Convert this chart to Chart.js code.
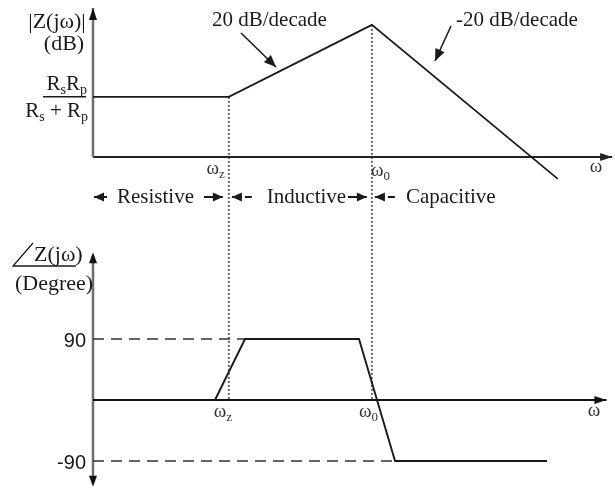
<!DOCTYPE html>
<html>
<head>
<meta charset="utf-8">
<script src="https://cdn.jsdelivr.net/npm/chart.js@4.4.1/dist/chart.umd.min.js"></script>
<style>
    html, body { margin: 0; padding: 0; background: #fff; }
    #wrap { width: 615px; height: 490px; }
</style>
</head>
<body>
<div id="wrap"><canvas id="bode" width="615" height="490"></canvas></div>
<script>
// frequency axis is log10(w) in decades, wz sits at 1 and w0 at 2
const cornerW = [1, 2];
const cornerSub = ["z", "0"];

// |Z(jw)| in dB
const magW = [0.05, 1, 2, 3.3];
const magDb = [16.7, 16.7, 36.7, -6.1];

// phase of Z(jw) in degrees
const phaseW = [0.903, 1.113, 1.91, 2.162, 3.225];
const phaseDeg = [0, 90, 90, -90, -90];

// dashed reference levels and where they stop
const refDeg = [90, -90];
const refEndW = [1.113, 2.162];
const refTicks = ["90", "-90"];

const regions = ["Resistive", "Inductive", "Capacitive"];
const slopeLabels = ["20 dB/decade", "-20 dB/decade"];

const SERIF = '"Liberation Serif", "Times New Roman", serif';
const SANS = '"Liberation Sans", Arial, sans-serif';

function arrowHead(ctx, x1, y1, x2, y2, len, half) {
    const a = Math.atan2(y2 - y1, x2 - x1);
    const c = Math.cos(a), s = Math.sin(a);
    ctx.beginPath();
    ctx.moveTo(x2, y2);
    ctx.lineTo(x2 - len * c + half * s, y2 - len * s - half * c);
    ctx.lineTo(x2 - len * c - half * s, y2 - len * s + half * c);
    ctx.closePath();
    ctx.fill();
}

function arrow(ctx, x1, y1, x2, y2, len, half) {
    ctx.beginPath();
    ctx.moveTo(x1, y1);
    ctx.lineTo(x2, y2);
    ctx.stroke();
    if (len > 0) arrowHead(ctx, x1, y1, x2, y2, len, half);
}

// parts: [[text, isSub], ...]
function subText(ctx, parts, x, y, size, align) {
    const subSize = Math.round(size * 0.66);
    let total = 0;
    parts.forEach(p => {
        ctx.font = (p[1] ? subSize : size) + "px " + SERIF;
        total += ctx.measureText(p[0]).width;
    });
    let cx = x;
    if (align === "center") cx = x - total / 2;
    if (align === "right") cx = x - total;
    ctx.textAlign = "left";
    ctx.textBaseline = "alphabetic";
    parts.forEach(p => {
        ctx.font = (p[1] ? subSize : size) + "px " + SERIF;
        ctx.fillText(p[0], cx, y + (p[1] ? size * 0.22 : 0));
        cx += ctx.measureText(p[0]).width;
    });
}

const bodeDecor = {
    id: "bodeDecor",
    beforeDatasetsDraw(chart) {
        const ctx = chart.ctx;
        const xs = chart.scales.x, ym = chart.scales.yMag, yp = chart.scales.yPh;
        const ca = chart.chartArea;
        const x0 = xs.getPixelForValue(xs.min);

        ctx.save();
        // dotted lines at the corner frequencies
        ctx.strokeStyle = "#666";
        ctx.lineWidth = 2;
        ctx.setLineDash([2, 2]);
        cornerW.forEach(w => {
            const i = magW.indexOf(w);
            const px = xs.getPixelForValue(w);
            ctx.beginPath();
            ctx.moveTo(px, ym.getPixelForValue(magDb[i]));
            ctx.lineTo(px, yp.getPixelForValue(0));
            ctx.stroke();
        });
        ctx.setLineDash([]);

        // magnitude axes
        ctx.fillStyle = "#222";
        ctx.strokeStyle = "#222";
        ctx.lineWidth = 2;
        const m0 = ym.getPixelForValue(0);
        arrow(ctx, x0, m0, xs.getPixelForValue(3.68), m0, 12, 4);
        ctx.strokeStyle = "#6e6e6e";
        ctx.fillStyle = "#111";
        ctx.lineWidth = 2.5;
        arrow(ctx, x0, m0, x0, ca.top - 2, 12, 4);

        // phase axes
        const p0 = yp.getPixelForValue(0);
        const pTop = yp.getPixelForValue(218);
        const pBot = yp.getPixelForValue(-128);
        ctx.beginPath();
        ctx.moveTo(x0, pTop + 6);
        ctx.lineTo(x0, pBot - 6);
        ctx.stroke();
        arrowHead(ctx, x0, pBot, x0, pTop, 11, 4);
        arrowHead(ctx, x0, pTop, x0, pBot, 11, 4);
        ctx.strokeStyle = "#111";
        ctx.fillStyle = "#111";
        ctx.lineWidth = 2;
        arrow(ctx, x0, p0, xs.getPixelForValue(3.64), p0, 12, 4);
        ctx.restore();
    },
    afterDatasetsDraw(chart) {
        const ctx = chart.ctx;
        const xs = chart.scales.x, ym = chart.scales.yMag, yp = chart.scales.yPh;
        const x0 = xs.getPixelForValue(xs.min);
        const wz = xs.getPixelForValue(cornerW[0]);
        const w0 = xs.getPixelForValue(cornerW[1]);
        const m0 = ym.getPixelForValue(0);
        const p0 = yp.getPixelForValue(0);

        ctx.save();
        ctx.fillStyle = "#1a1a1a";
        ctx.strokeStyle = "#1a1a1a";

        // y-axis titles, magnitude
        ctx.textAlign = "center";
        ctx.textBaseline = "middle";
        ctx.font = "22px " + SERIF;
        ctx.fillText("|Z(j\u03c9)|", 57, 22);
        ctx.fillText("(dB)", 64, 44);

        // level of the flat part: Rs Rp / (Rs + Rp)
        const lvl = ym.getPixelForValue(magDb[0]);
        subText(ctx, [["R", 0], ["s", 1], ["R", 0], ["p", 1]], 87, lvl - 7, 21, "right");
        ctx.lineWidth = 1.5;
        ctx.beginPath();
        ctx.moveTo(43, lvl);
        ctx.lineTo(86, lvl);
        ctx.stroke();
        subText(ctx, [["R", 0], ["s", 1], [" + R", 0], ["p", 1]], 88, lvl + 20, 21, "right");

        // y-axis title, phase
        ctx.font = "22px " + SERIF;
        ctx.textAlign = "left";
        ctx.textBaseline = "alphabetic";
        ctx.fillText("Z(j\u03c9)", 34, 261);
        ctx.lineWidth = 1.3;
        ctx.beginPath();
        ctx.moveTo(33, 243);
        ctx.lineTo(13, 266);
        ctx.lineTo(76, 266);
        ctx.stroke();
        ctx.textAlign = "center";
        ctx.textBaseline = "middle";
        ctx.fillText("(Degree)", 54, 284);

        // 90 / -90 tick labels
        ctx.font = "20px " + SANS;
        ctx.textAlign = "right";
        refDeg.forEach((d, i) => {
            ctx.fillText(refTicks[i], 86, yp.getPixelForValue(d) + 2);
        });

        // corner frequency labels
        ctx.fillStyle = "#333";
        subText(ctx, [["\u03c9", 0], [cornerSub[0], 1]], wz - 4, m0 + 17, 19, "right");
        subText(ctx, [["\u03c9", 0], [cornerSub[1], 1]], w0 - 1, m0 + 19, 19, "left");
        subText(ctx, [["\u03c9", 0]], 596, m0 + 15, 19, "center");
        subText(ctx, [["\u03c9", 0], [cornerSub[0], 1]], wz - 15, p0 + 17, 19, "left");
        subText(ctx, [["\u03c9", 0], [cornerSub[1], 1]], w0 - 13, p0 + 17, 19, "left");
        subText(ctx, [["\u03c9", 0]], 594, p0 + 16, 19, "center");

        // slope annotations
        ctx.fillStyle = "#1a1a1a";
        ctx.font = "21px " + SERIF;
        ctx.textAlign = "left";
        ctx.textBaseline = "middle";
        ctx.fillText(slopeLabels[0], 212, 20);
        ctx.fillText(slopeLabels[1], 456, 20);
        ctx.lineWidth = 1.6;
        arrow(ctx, 241, 33, 276, 67, 12, 5);
        arrow(ctx, 451, 26, 435, 61, 12, 5);

        // region labels with arrows
        const ry = 197;
        ctx.font = "21px " + SERIF;
        ctx.textBaseline = "middle";
        ctx.textAlign = "left";
        ctx.fillText(regions[0], x0 + 24, ry);
        ctx.fillText(regions[1], wz + 38, ry);
        ctx.fillText(regions[2], w0 + 34, ry);
        ctx.lineWidth = 2;
        arrow(ctx, x0 + 14, ry, x0 + 1, ry, 10, 4.5);
        arrow(ctx, wz - 25, ry, wz - 6, ry, 10, 4.5);
        arrow(ctx, wz + 13, ry, wz + 3, ry, 10, 4.5);
        arrow(ctx, wz + 16, ry, wz + 23, ry, 0, 0);
        arrow(ctx, w0 - 24, ry, w0 - 5, ry, 10, 4.5);
        arrow(ctx, w0 + 13, ry, w0 + 3, ry, 10, 4.5);
        arrow(ctx, w0 + 16, ry, w0 + 23, ry, 0, 0);
        ctx.restore();
    }
};

const toPoints = (xs, ys) => xs.map((x, i) => ({ x: x, y: ys[i] }));

const datasets = [
    {
        label: "|Z(jw)|",
        data: toPoints(magW, magDb),
        yAxisID: "yMag",
        borderColor: "#1a1a1a",
        borderWidth: 1.7
    },
    {
        label: "phase",
        data: toPoints(phaseW, phaseDeg),
        yAxisID: "yPh",
        borderColor: "#1a1a1a",
        borderWidth: 1.9
    }
];
refDeg.forEach((d, i) => {
    datasets.push({
        label: "ref " + d,
        data: [{ x: magW[0], y: d }, { x: refEndW[i], y: d }],
        yAxisID: "yPh",
        borderColor: "#333",
        borderWidth: 1.6,
        borderDash: [11, 7]
    });
});
datasets.forEach(ds => {
    ds.pointRadius = 0;
    ds.fill = false;
    ds.tension = 0;
});

new Chart(document.getElementById("bode"), {
    type: "line",
    data: { datasets: datasets },
    options: {
        responsive: false,
        animation: false,
        events: [],
        layout: { padding: { left: 93, right: 0, top: 10, bottom: 2 } },
        plugins: { legend: { display: false }, tooltip: { enabled: false } },
        scales: {
            x: { type: "linear", min: 0.05, max: 3.7, display: false },
            yMag: { type: "linear", min: -91.94, max: 40.83, display: false },
            yPh: { type: "linear", min: -129.8, max: 575.4, display: false }
        }
    },
    plugins: [bodeDecor]
});
</script>
</body>
</html>
